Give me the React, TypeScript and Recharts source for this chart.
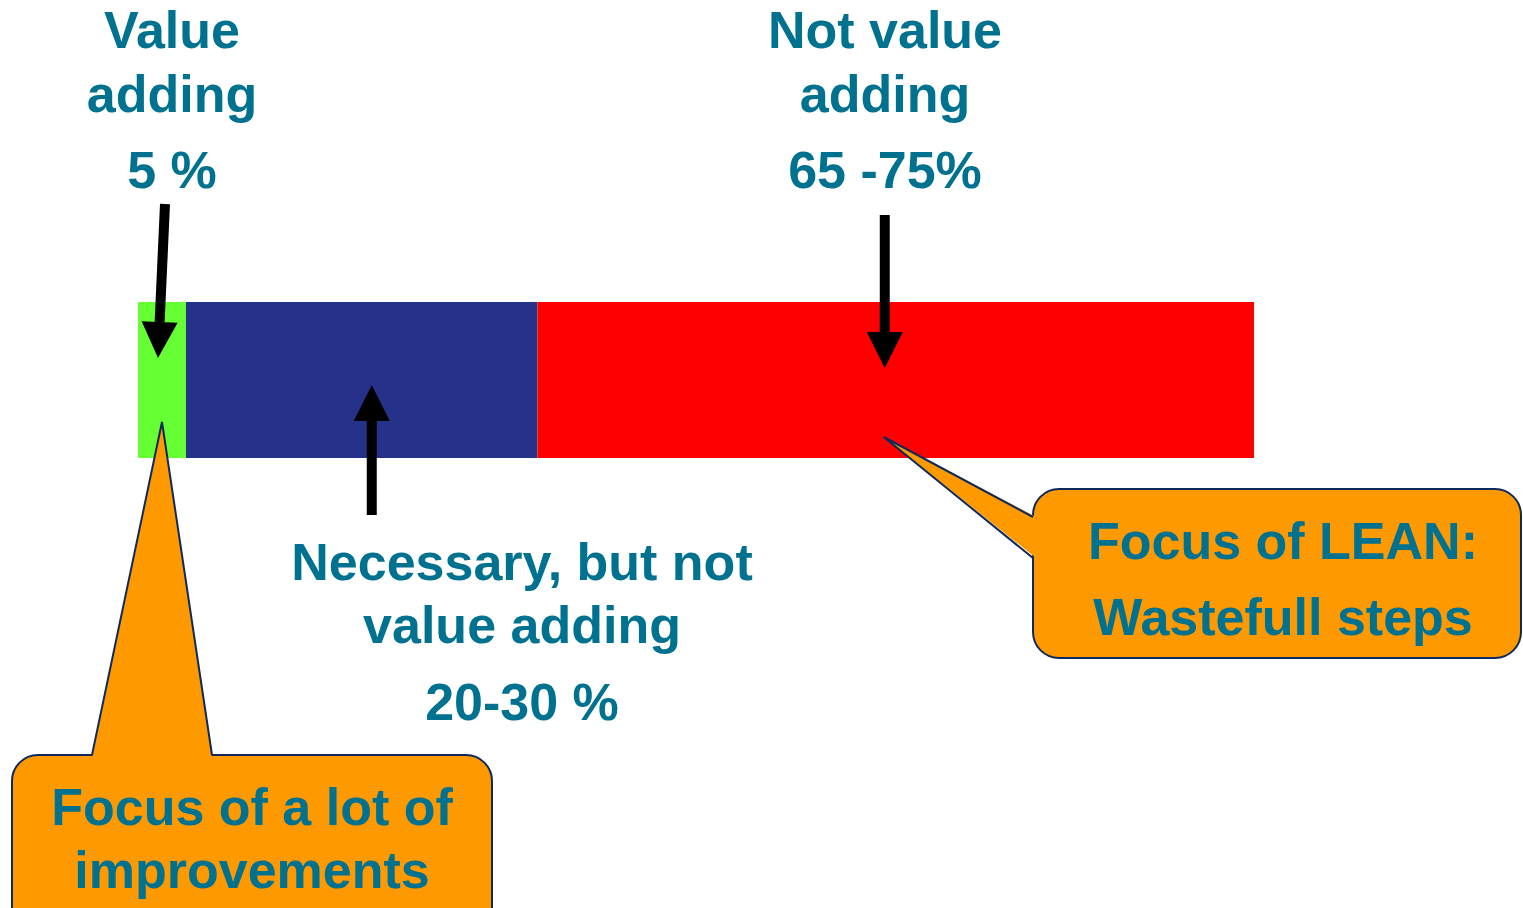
import { BarChart, Bar, XAxis, YAxis } from "recharts";

const CATEGORIES = ["Lead time"];
const VALUE_ADDING = [4.3];
const NECESSARY = [31.5];
const WASTE = [64.2];

const W = 1523;
const H = 908;
const MARGIN = { top: 302, right: 269, bottom: 450, left: 138 };
const TEXT = "#00718F";
const ORANGE = "#FF9900";
const NAVY = "#0E2A5C";
const FONT = "'Liberation Sans', Arial, sans-serif";

const data = CATEGORIES.map((name, i) => ({
  name,
  va: VALUE_ADDING[i],
  nec: NECESSARY[i],
  waste: WASTE[i],
}));

// x pixel for a cumulative percentage along the bar
const plotW = W - MARGIN.left - MARGIN.right;
const xAt = (v: number) => MARGIN.left + (v / 100) * plotW;

function Label({ x, y, lines, gap }: { x: number; y: number; lines: string[]; gap: number[] }) {
  let yy = y;
  return (
    <>
      {lines.map((l, i) => {
        if (i > 0) yy += gap[i - 1];
        return (
          <text key={i} x={x} y={yy} textAnchor="middle" fontSize={52} fontWeight="bold" fill={TEXT} fontFamily={FONT}>
            {l}
          </text>
        );
      })}
    </>
  );
}

function Arrow({ x1, y1, x2, y2 }: { x1: number; y1: number; x2: number; y2: number }) {
  const dx = x2 - x1;
  const dy = y2 - y1;
  const len = Math.hypot(dx, dy);
  const ux = dx / len;
  const uy = dy / len;
  const head = 36;
  const hw = 18;
  const bx = x2 - ux * head;
  const by = y2 - uy * head;
  return (
    <g>
      <line x1={x1} y1={y1} x2={bx} y2={by} stroke="#000" strokeWidth={10} />
      <polygon
        points={`${x2},${y2} ${bx - uy * hw},${by + ux * hw} ${bx + uy * hw},${by - ux * hw}`}
        fill="#000"
      />
    </g>
  );
}

function Annotations() {
  const greenMid = xAt(VALUE_ADDING[0] / 2);
  const wasteMid = xAt(VALUE_ADDING[0] + NECESSARY[0] + WASTE[0] / 2) - 11;
  const necMid = xAt(VALUE_ADDING[0] + NECESSARY[0] / 2) + 10;
  return (
    <svg width={W} height={H} style={{ position: "absolute", left: 0, top: 0, pointerEvents: "none" }}>
      <Label x={172} y={48} lines={["Value", "adding", "5 %"]} gap={[64, 76]} />
      <Label x={885} y={48} lines={["Not value", "adding", "65 -75%"]} gap={[64, 76]} />
      <Label x={522} y={580} lines={["Necessary, but not", "value adding", "20-30 %"]} gap={[63, 77]} />

      <Arrow x1={165} y1={204} x2={greenMid - 4} y2={358} />
      <Arrow x1={necMid} y1={515} x2={necMid} y2={385} />
      <Arrow x1={wasteMid} y1={215} x2={wasteMid} y2={368} />

      {/* callout: wasteful steps */}
      <rect x={1033} y={489} width={488} height={169} rx={26} fill={ORANGE} stroke={NAVY} strokeWidth={2} />
      <polygon points={`1036,517 ${wasteMid - 1},437 1036,558`} fill={ORANGE} />
      <polyline points={`1033,517 ${wasteMid - 1},437 1033,558`} fill="none" stroke={NAVY} strokeWidth={2} />
      <Label x={1283} y={559} lines={["Focus of LEAN:", "Wastefull steps"]} gap={[76]} />

      {/* callout: improvements */}
      <rect x={12} y={755} width={480} height={180} rx={26} fill={ORANGE} stroke={NAVY} strokeWidth={2} />
      <polygon points={`92,758 ${greenMid},422 212,758`} fill={ORANGE} />
      <polyline points={`92,755 ${greenMid},422 212,755`} fill="none" stroke={NAVY} strokeWidth={2} />
      <Label x={252} y={825} lines={["Focus of a lot of", "improvements"]} gap={[63]} />
    </svg>
  );
}

export default function App() {
  return (
    <div style={{ position: "absolute", left: 0, top: 0, width: W, height: H, background: "#fff" }}>
      <BarChart width={W} height={H} data={data} layout="vertical" margin={MARGIN} barCategoryGap={0}>
        <XAxis type="number" domain={[0, 100]} hide />
        <YAxis type="category" dataKey="name" hide />
        <Bar dataKey="va" stackId="a" fill="#66FF33" isAnimationActive={false} />
        <Bar dataKey="nec" stackId="a" fill="#263289" isAnimationActive={false} />
        <Bar dataKey="waste" stackId="a" fill="#FF0000" isAnimationActive={false} />
      </BarChart>
      <Annotations />
    </div>
  );
}
